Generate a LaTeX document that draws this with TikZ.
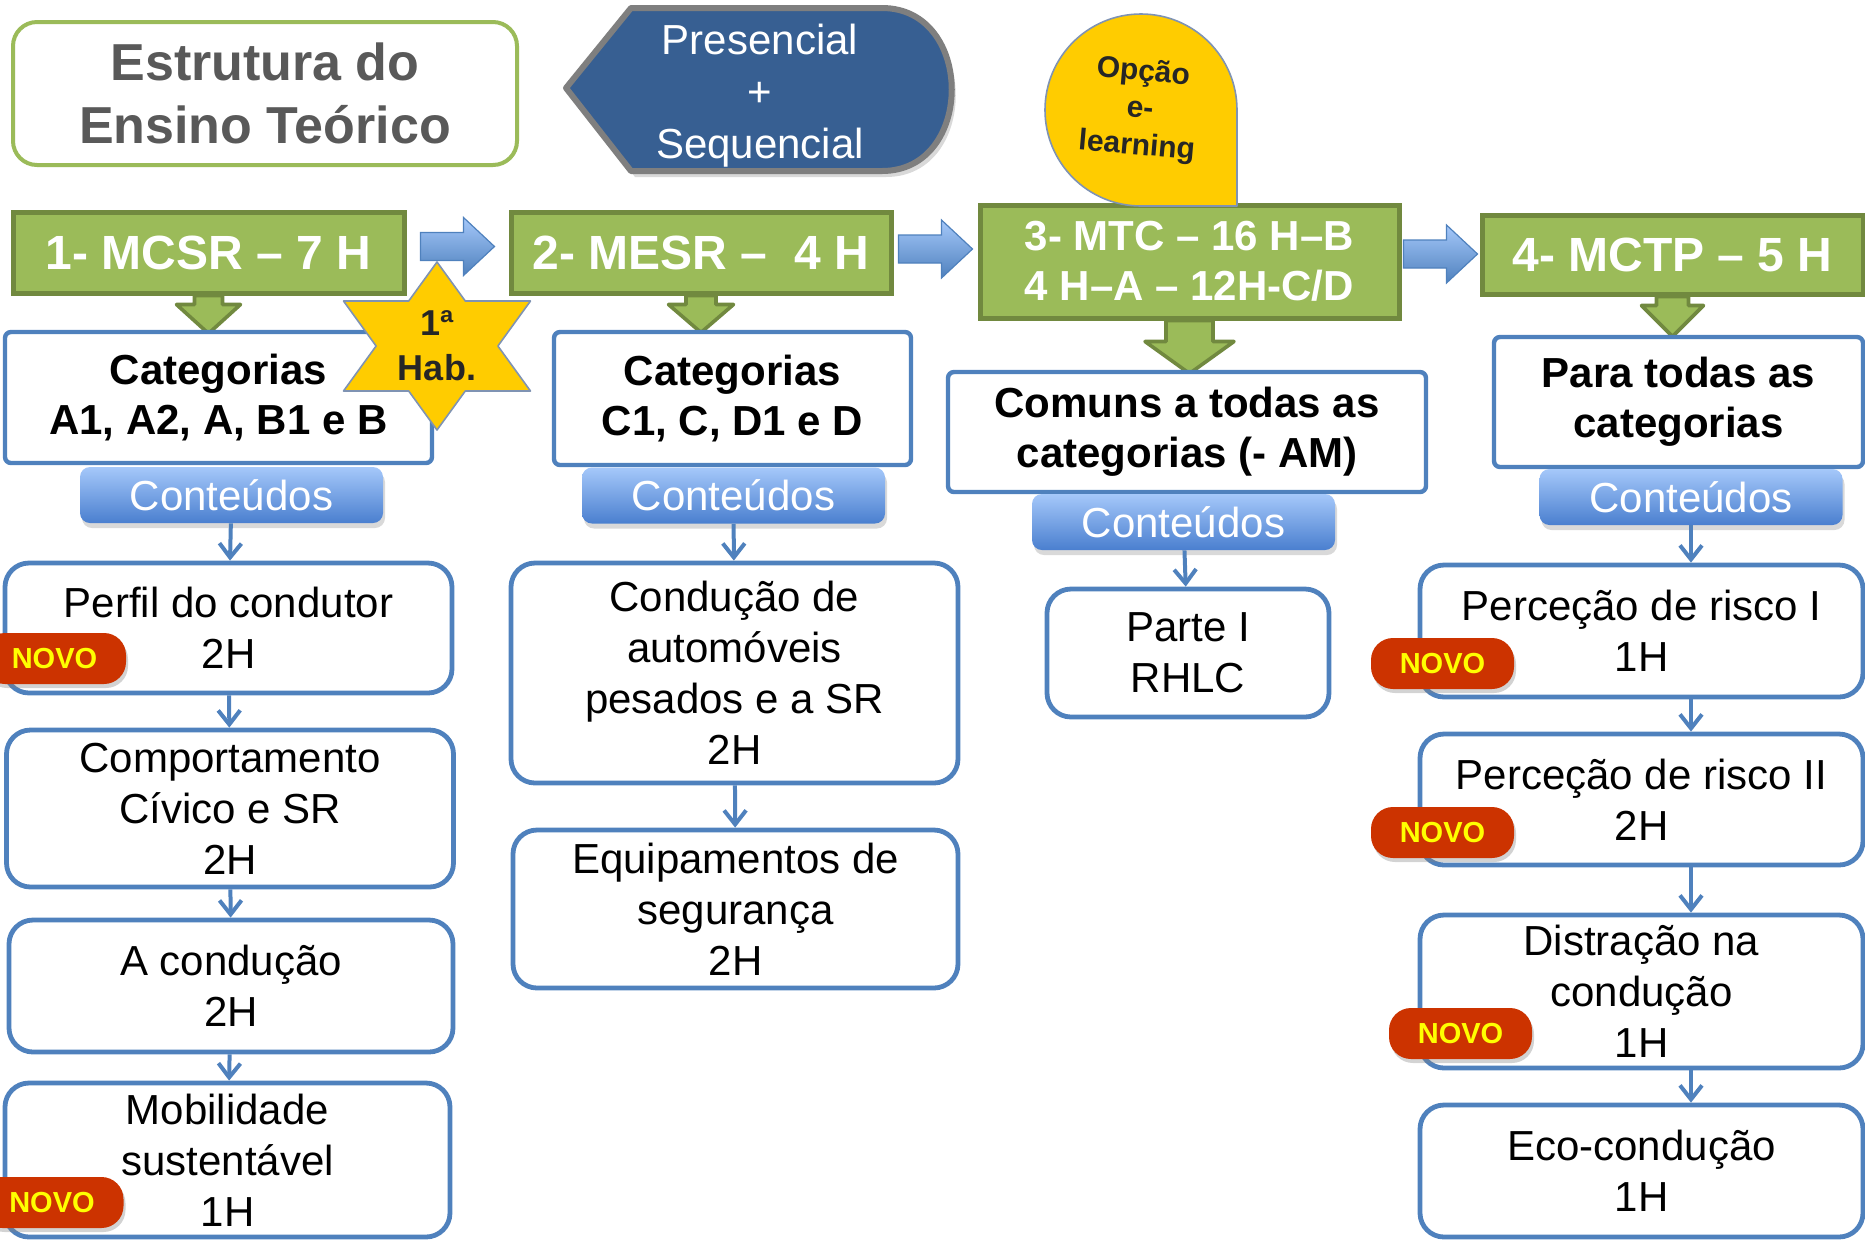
\documentclass[tikz,border=0pt]{standalone}
\usepackage{fontspec}
\setmainfont{Liberation Sans}
\usetikzlibrary{positioning,calc,shadows,arrows.meta}

\definecolor{hdrfill}{HTML}{9BBB59}
\definecolor{hdrline}{HTML}{71893F}
\definecolor{boxline}{HTML}{4F81BD}
\definecolor{presfill}{HTML}{375F92}
\definecolor{presline}{HTML}{7F7F7F}
\definecolor{novored}{HTML}{CC3300}
\definecolor{novoyel}{HTML}{FFFF00}
\definecolor{ambar}{HTML}{FFCC00}
\definecolor{ambarline}{HTML}{7F93B3}
\definecolor{btntop}{HTML}{A5C8FA}
\definecolor{btnbot}{HTML}{4A7FCF}
\definecolor{titlegray}{HTML}{595959}

\tikzset{
  titlebox/.style={draw=hdrfill,line width=2pt,fill=white,rounded corners=12pt,text=titlegray,
    align=center,font=\fontsize{26}{31.5}\selectfont\bfseries},
  hdr/.style={draw=hdrline,line width=2.5pt,fill=hdrfill,text=white,align=center,
    font=\fontsize{24}{29}\selectfont\bfseries},
  catbox/.style={draw=boxline,line width=2.2pt,fill=white,rounded corners=3pt,align=center,
    font=\fontsize{21}{25}\selectfont\bfseries},
  btn/.style={rounded corners=5pt,top color=btntop,bottom color=btnbot,text=white,
    minimum width=151.5pt,minimum height=28pt,font=\fontsize{21}{25}\selectfont,
    drop shadow={opacity=.3,shadow xshift=1pt,shadow yshift=-2.5pt}},
  cbox/.style={draw=boxline,line width=2.4pt,fill=white,rounded corners=12pt,align=center,
    font=\fontsize{21}{25.5}\selectfont},
  novo/.style={fill=novored,text=novoyel,rounded corners=11pt,minimum width=71.5pt,
    minimum height=25.5pt,font=\fontsize{14.5}{17}\selectfont\bfseries,
    drop shadow={opacity=.35,shadow xshift=1pt,shadow yshift=-2pt}},
  flow/.style={draw=boxline,line width=2pt,-{Straight Barb[length=7pt,width=11pt]}},
  garrow/.style={fill=hdrfill,draw=hdrline,line width=1.8pt,line join=round},
  barrow/.style={top color=btntop,bottom color=boxline,draw=boxline,line width=.6pt},
  tagshape/.style={fill=ambar,draw=ambarline,line width=.8pt,line join=round},
}

\begin{document}
\begin{tikzpicture}[x=0.5pt,y=-0.5pt]
\useasboundingbox (0,0) rectangle (1865,1239);

\node[titlebox,minimum width=252pt,minimum height=71.5pt](titulo) at (265,93.5) {Estrutura do\\Ensino Teórico};

\draw[fill=presfill,draw=presline,line width=3pt,line join=round,
  drop shadow={opacity=.3,shadow xshift=2pt,shadow yshift=-3pt}]
  (566,88) -- (631,8) -- (882,8) .. controls (975,8) and (975,171) .. (882,171) -- (631,171) -- cycle;
\node[text=white,align=center,font=\fontsize{21}{26}\selectfont](pres) at (760,96) {Presencial\\+\\Sequencial};

\node[hdr,minimum width=195.5pt,minimum height=40.5pt](h1) at (208.5,252.5) {1- MCSR – 7 H};
\node[hdr,minimum width=190pt,minimum height=40.5pt](h2) at (701,252.5) {2- MESR –~ 4 H};
\node[hdr,minimum width=209.5pt,minimum height=56.5pt,font=\fontsize{21}{25}\selectfont\bfseries](h3) at (1189.5,261.5) {3- MTC – 16 H–B\\4 H–A – 12H-C/D};
\node[hdr,minimum width=190.5pt,minimum height=39.5pt](h4) at (1672.5,254.5) {4- MCTP – 5 H};

\foreach \h/\s/\w/\a/\l in {h1/14/32/9/29, h2/15/32.5/9/28, h3/23.5/44.5/21/32, h4/16/31/9/31}
  \draw[garrow] (\h.south) ++(-\s,0) -- ++(0,\a) -- ++({\s-\w},0) -- ++(\w,\l) -- ++(\w,-\l) -- ++({\s-\w},0) -- ++(0,-\a) -- cycle;

\node[catbox,minimum width=213.5pt,minimum height=65.5pt](c1) at (218.5,397.5) {Categorias\\A1, A2, A, B1 e B};
\node[catbox,minimum width=178.5pt,minimum height=66.5pt](c2) at (732.5,398.5) {Categorias\\C1, C, D1 e D};
\node[catbox,minimum width=239pt,minimum height=60pt](c3) at (1187,432) {Comuns a todas as\\categorias (- AM)};
\node[catbox,minimum width=184.5pt,minimum height=65pt](c4) at (1678.5,402) {Para todas as\\categorias};

\node[btn](k1) at (231.5,495) {Conteúdos};
\node[btn](k2) at (733.5,495.5) {Conteúdos};
\node[btn](k3) at (1183.5,522) {Conteúdos};
\node[btn](k4) at (1691,497) {Conteúdos};

\node[cbox,minimum width=223.5pt,minimum height=65pt](b11) at (228.5,628) {Perfil do condutor\\2H};
\node[cbox,minimum width=223.5pt,minimum height=78.5pt](b12) at (230,808.5) {Comportamento\\Cívico e SR\\2H};
\node[cbox,minimum width=222pt,minimum height=66pt](b13) at (231,986) {A condução\\2H};
\node[cbox,minimum width=222.5pt,minimum height=77pt](b14) at (227.5,1160) {Mobilidade\\sustentável\\1H};

\node[cbox,minimum width=223.5pt,minimum height=110pt](b21) at (734.5,673) {Condução de\\automóveis\\pesados e a SR\\2H};
\node[cbox,minimum width=222.5pt,minimum height=79pt](b22) at (735.5,909) {Equipamentos de\\segurança\\2H};

\node[cbox,minimum width=141pt,minimum height=64pt](b31) at (1188,653) {Parte I\\RHLC};

\node[cbox,minimum width=221.5pt,minimum height=66pt](b41) at (1641.5,631) {Perceção de risco I\\1H};
\node[cbox,minimum width=221.5pt,minimum height=65.5pt](b42) at (1641.5,799.5) {Perceção de risco II\\2H};
\node[cbox,minimum width=221.5pt,minimum height=76.5pt](b43) at (1641.5,991.5) {Distração na\\condução\\1H};
\node[cbox,minimum width=221.5pt,minimum height=66pt](b44) at (1641.5,1171) {Eco-condução\\1H};

\draw [flow] (k1) -- (b11);
\draw [flow] (b11) -- (b12);
\draw [flow] (b12) -- (b13);
\draw [flow] (b13) -- (b14);
\draw [flow] (k2) -- (b21);
\draw [flow] (b21) -- (b22);
\draw [flow] (k3) -- (b31);
\draw [flow] (k4.south) -- (k4.south |- b41.north);
\draw [flow] (b41.south -| k4) -- (b42.north -| k4);
\draw [flow] (b42.south -| k4) -- (b43.north -| k4);
\draw [flow] (b43.south -| k4) -- (b44.north -| k4);

\node[novo](n1) at (54.5,658.5) {NOVO};
\node[novo](n2) at (52,1202.5) {NOVO};
\node[novo](n3) at (1442.5,663.5) {NOVO};
\node[novo](n4) at (1442.5,832.5) {NOVO};
\node[novo](n5) at (1460.5,1033.5) {NOVO};

\foreach \p/\q/\dy in {h1/h2/-6, h2/h3/-8, h3/h4/-4} {
  \path ($(\p.east)!.5!(\q.west)$) ++(0,\dy) coordinate (m);
  \draw[barrow] (m) ++(-37,-14) -- ++(43,0) -- ++(0,-15) -- ++(31,29) -- ++(-31,29) -- ++(0,-15) -- ++(-43,0) -- cycle;
}

\coordinate (sc) at (437,346);
\draw[tagshape,shift={(sc)}] (0,-84) -- (28.3,-45) -- (93.5,-45) -- (60.9,0) -- (93.5,45) -- (28.3,45)
  -- (0,84) -- (-28.3,45) -- (-93.5,45) -- (-60.9,0) -- (-93.5,-45) -- (-28.3,-45) -- cycle;
\node[align=center,text=black!85,font=\fontsize{18}{22.5}\selectfont\bfseries](hab) at (sc) {1ª\\Hab.};

\draw[tagshape] (1237,206) -- (1237,110) arc[start angle=0,end angle=180,radius=48pt]
  arc[start angle=180,end angle=270,radius=48pt] -- cycle;
\node[align=center,rotate=-5,text=black!85,font=\fontsize{15}{18.5}\selectfont\bfseries](elearn) at (1140,110) {Opção\\e-\\learning};

\end{tikzpicture}
\end{document}
